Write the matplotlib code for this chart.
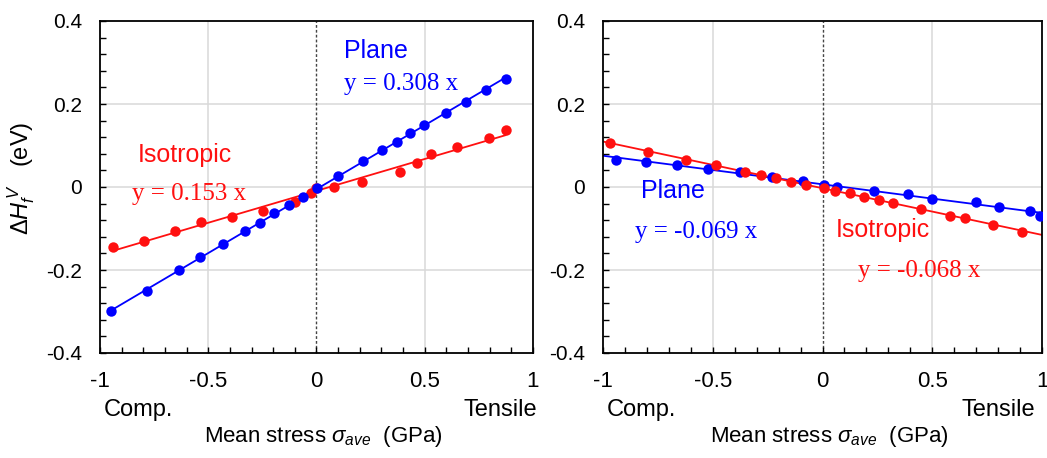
import numpy as np
import matplotlib
matplotlib.use("Agg")
import matplotlib.pyplot as plt
import matplotlib.transforms as mtransforms

plt.rcParams['font.family'] = ['Liberation Sans', 'DejaVu Sans']
plt.rcParams['mathtext.fontset'] = 'custom'
plt.rcParams['mathtext.rm'] = 'Liberation Sans'
plt.rcParams['mathtext.it'] = 'Liberation Sans:italic'

#%% data
# left panel
l_plane_x = [-0.947, -0.785, -0.633, -0.536, -0.430, -0.328, -0.259, -0.197, -0.128, -0.062,
             0.003, 0.098, 0.215, 0.302, 0.370, 0.431, 0.496, 0.597, 0.691, 0.781, 0.876]
l_plane_y = [-0.298, -0.251, -0.201, -0.169, -0.138, -0.107, -0.086, -0.063, -0.043, -0.023,
             -0.003, 0.027, 0.062, 0.090, 0.108, 0.129, 0.149, 0.179, 0.206, 0.233, 0.261]
l_iso_x = [-0.939, -0.798, -0.653, -0.533, -0.391, -0.246, -0.097, -0.025, 0.0,
           0.083, 0.211, 0.385, 0.462, 0.531, 0.650, 0.796, 0.873]
l_iso_y = [-0.144, -0.129, -0.106, -0.084, -0.073, -0.059, -0.035, -0.015, -0.002,
           0.001, 0.012, 0.035, 0.057, 0.079, 0.096, 0.119, 0.137]

# right panel
r_plane_x = [-0.943, -0.802, -0.661, -0.521, -0.377, -0.232, -0.091, 0.006, 0.067,
             0.235, 0.390, 0.500, 0.698, 0.803, 0.944, 0.990]
r_plane_y = [0.065, 0.061, 0.053, 0.043, 0.035, 0.025, 0.015, 0.006, 0.001,
             -0.009, -0.017, -0.029, -0.037, -0.049, -0.059, -0.069]
r_iso_x = [-0.969, -0.794, -0.621, -0.486, -0.351, -0.278, -0.213, -0.144, -0.076, 0.006,
           0.059, 0.124, 0.190, 0.257, 0.323, 0.451, 0.583, 0.648, 0.778, 0.907]
r_iso_y = [0.105, 0.084, 0.066, 0.053, 0.037, 0.029, 0.021, 0.013, 0.006, -0.003,
           -0.009, -0.015, -0.023, -0.031, -0.038, -0.054, -0.069, -0.075, -0.092, -0.108]

l_labels = ["Plane", "y = 0.308 x", "Isotropic", "y = 0.153 x"]
r_labels = ["Plane", "y = -0.069 x", "Isotropic", "y = -0.068 x"]

xticks = [-1, -0.5, 0, 0.5, 1]
xticklabels = ["-1", "-0.5", "0", "0.5", "1"]
yticks = [-0.4, -0.2, 0, 0.2, 0.4]
yticklabels = ["-0.4", "-0.2", "0", "0.2", "0.4"]

BLUE = '#0000ff'
RED = '#ff1010'
SERIF = ['Liberation Serif', 'DejaVu Serif']


#%% FUNCTIONS
def setup_axes(ax, tensile_x):
    ax.set_xlim(-1, 1)
    ax.set_ylim(-0.4, 0.4)
    ax.set_xticks(xticks)
    ax.set_xticklabels(xticklabels, fontsize=16)
    ax.set_yticks(yticks)
    ax.set_yticklabels(yticklabels, fontsize=15)
    ax.set_xticks(np.arange(-1, 1.001, 0.1), minor=True)
    ax.set_yticks(np.arange(-0.4, 0.401, 0.04), minor=True)
    ax.tick_params(which='both', direction='in', length=4, width=1, top=False, right=False)
    ax.tick_params(axis='x', which='major', pad=13)
    ax.tick_params(axis='y', which='major', pad=13)
    for s in ax.spines.values():
        s.set_linewidth(1.3)
    for v in [-0.5, 0.5]:
        ax.axvline(v, color='#d9d9d9', lw=1.1, zorder=0)
    for v in [-0.2, 0, 0.2]:
        ax.axhline(v, color='#d9d9d9', lw=1.1, zorder=0)
    ax.axvline(0, color='#444444', lw=1, ls=(0, (2, 1.5)), zorder=1)
    ax.text(0.008, -0.172, "Comp.", transform=ax.transAxes, fontsize=17,
            ha='left', va='center')
    ax.text(tensile_x, -0.172, "Tensile", transform=ax.transAxes, fontsize=17,
            ha='right', va='center')
    tr = mtransforms.blended_transform_factory(ax.transData, ax.transAxes)
    ax.text(0.03, -0.252, r"Mean stress $\sigma_{ave}$  (GPa)", transform=tr,
            fontsize=16, ha='center', va='center')


def draw_series(ax, x, y, color, full_range):
    k, b = np.polyfit(x, y, 1)
    if full_range:
        xs = np.array([-1.0, 1.0])
    else:
        xs = np.array([min(x), max(x)])
    ax.plot(xs, k * xs + b, color=color, lw=1.3, zorder=2)
    ax.plot(x, y, 'o', color=color, ms=7.5, mec='none', zorder=3)


#%% Plot everything
fig = plt.figure(figsize=[10.47, 4.58], dpi=100)
ax1 = fig.add_axes([100 / 1047, 1 - 353 / 458, 433 / 1047, 332 / 458])
ax2 = fig.add_axes([603 / 1047, 1 - 353 / 458, 439 / 1047, 332 / 458])

setup_axes(ax1, 1.009)
setup_axes(ax2, 0.984)

draw_series(ax1, l_iso_x, l_iso_y, RED, False)
draw_series(ax1, l_plane_x, l_plane_y, BLUE, False)
draw_series(ax2, r_plane_x, r_plane_y, BLUE, True)
draw_series(ax2, r_iso_x, r_iso_y, RED, True)

ax1.text(0.125, 0.311, l_labels[0], color=BLUE, fontsize=18, va='baseline')
ax1.text(0.129, 0.234, l_labels[1], color=BLUE, fontsize=18, family=SERIF, va='baseline')
ax1.text(-0.827, 0.060, l_labels[2], color=RED, fontsize=18, va='baseline')
ax1.text(-0.850, -0.031, l_labels[3], color=RED, fontsize=18, family=SERIF, va='baseline')

ax2.text(-0.829, -0.027, r_labels[0], color=BLUE, fontsize=18, va='baseline')
ax2.text(-0.856, -0.123, r_labels[1], color=BLUE, fontsize=18, family=SERIF, va='baseline')
ax2.text(0.059, -0.120, r_labels[2], color=RED, fontsize=18, va='baseline')
ax2.text(0.164, -0.217, r_labels[3], color=RED, fontsize=18, family=SERIF, va='baseline')

ax1.set_ylabel(r"$\Delta H_f^{\,V}$   (eV)", fontsize=17)
ax1.yaxis.set_label_coords(-0.145, 0.527)

fig.savefig("out.png", dpi=100)
